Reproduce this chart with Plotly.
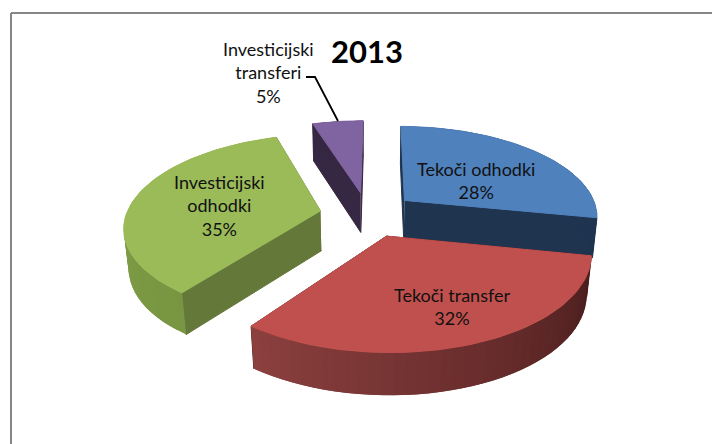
import numpy as np
import plotly.graph_objects as go

categories = ["Tekoči odhodki", "Tekoči transfer", "Investicijski odhodki", "Investicijski transferi"]
shares = [28, 32, 35, 5]
labels = ["Tekoči odhodki<br>28%", "Tekoči transfer<br>32%", "Investicijski<br>odhodki<br>35%", "Investicijski<br>transferi<br>5%"]
title = "2013"

top_colors = ["#4F81BD", "#C0504D", "#9BBB59", "#8064A2"]
side_colors = ["#1F344F", "#4A1C1C", "#64783A", "#362743"]
wall_from = [(31, 52, 79), (72, 28, 28), (120, 150, 65), (54, 39, 67)]
wall_to = [(31, 52, 79), (140, 64, 62), (135, 165, 78), (54, 39, 67)]

CX, CY, R, RK, P, DEPTH, ZW, EXPL, ROT = 368.0, 214.4, 194.0, 90.0, 0.16, 40.0, 0.02, 0.25, np.radians(0.5)


def project(ang, rad, off, z):
    X = off[0] + rad * np.sin(ang)
    Y = off[1] + rad * np.cos(ang)
    w0 = 1 + P * Y
    w = w0 + ZW * z
    return CX + R * X / w, CY - RK * Y / w + DEPTH * z / w0 ** 0.65


def poly(xs, ys, color, width=1):
    return go.Scatter(x=list(xs), y=list(ys), mode="lines", fill="toself", fillcolor=color,
                      line=dict(color=color, width=width), hoverinfo="skip", showlegend=False)


fig = go.Figure()
edges = np.cumsum([0] + shares) / sum(shares) * 2 * np.pi + ROT
draw_order = [3, 2, 0, 1]
for i in draw_order:
    a0, a1 = edges[i], edges[i + 1]
    mid = (a0 + a1) / 2 - ROT
    off = (EXPL * np.sin(mid), EXPL * np.cos(mid))
    # radial faces
    for a in (a0, a1):
        pts = [project(a, 0, off, 0), project(a, 1, off, 0), project(a, 1, off, 1), project(a, 0, off, 1)]
        fig.add_trace(poly([p[0] for p in pts], [p[1] for p in pts], side_colors[i]))
    # outer wall strips: each one overlaps the next so no seams show
    n = 40
    angs = np.linspace(a0, a1, n + 1)
    for j in range(n):
        t = (j + 0.5) / n
        c = [round(wall_from[i][k] + (wall_to[i][k] - wall_from[i][k]) * t) for k in range(3)]
        col = f"rgb({c[0]},{c[1]},{c[2]})"
        end = angs[min(j + 2, n)]
        pts = [project(angs[j], 1, off, 0), project(end, 1, off, 0),
               project(end, 1, off, 1), project(angs[j], 1, off, 1)]
        fig.add_trace(poly([p[0] for p in pts], [p[1] for p in pts], col, width=0))
    # top face
    arc = np.linspace(a0, a1, 60)
    xs, ys = project(arc, 1, off, 0)
    ax, ay = project(0, 0, off, 0)
    fig.add_trace(poly([ax, *xs, ax], [ay, *ys, ay], top_colors[i]))

fig.add_trace(go.Scatter(x=[306, 315, 338], y=[77, 77, 121], mode="lines",
                         line=dict(color="black", width=1.8), hoverinfo="skip", showlegend=False))

label_pos = [(476, 180), (452, 306), (219, 205), (268, 72)]
for text, (x, y) in zip(labels, label_pos):
    fig.add_annotation(x=x, y=y, text=text, showarrow=False, align="center",
                       font=dict(family="Lato", size=18, color="#111111"))
fig.add_annotation(x=367, y=51, text=f"<b>{title}</b>", showarrow=False,
                   font=dict(family="Lato", size=31, color="black"))

fig.add_shape(type="line", x0=11, x1=712, y0=13, y1=13, line=dict(color="#868686", width=2))
fig.add_shape(type="line", x0=11, x1=11, y0=13, y1=444, line=dict(color="#868686", width=2))

fig.update_layout(width=712, height=444, margin=dict(l=0, r=0, t=0, b=0),
                  paper_bgcolor="white", plot_bgcolor="white", showlegend=False,
                  xaxis=dict(range=[0, 712], visible=False, fixedrange=True),
                  yaxis=dict(range=[444, 0], visible=False, fixedrange=True))
fig.write_html("out.html", config=dict(displayModeBar=False),
               post_script="document.body.style.margin='0';document.body.style.overflow='hidden';")
